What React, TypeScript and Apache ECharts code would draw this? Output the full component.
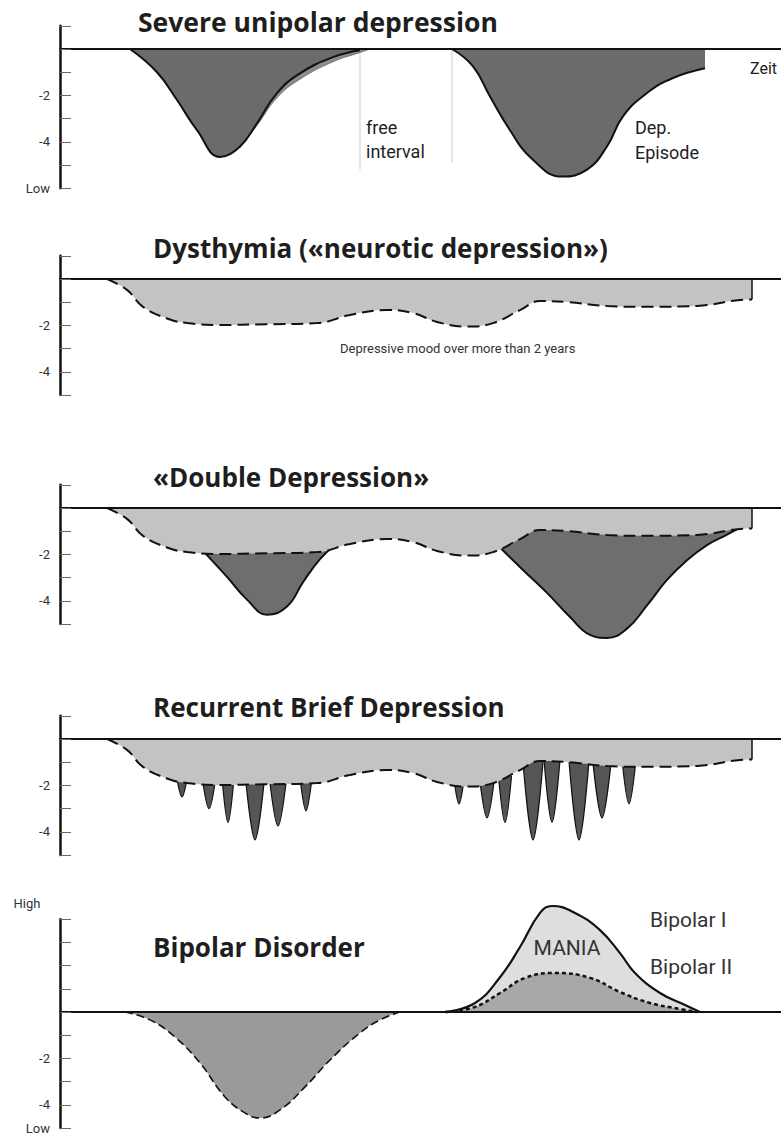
import { useEffect, useRef } from "react";
import * as echarts from "echarts";

// time axis (arbitrary units) and mood axis (units, 0 = euthymic)
const T_MAX = 72.1;

// Panel 1 – Severe unipolar depression
const sevEp1T = [7, 9.7, 11.7, 13.7, 16, 18, 19.7, 21.7, 24, 27.3, 30];
const sevEp1V = [0, -1, -2.2, -3.5, -4.65, -4.2, -3.2, -1.9, -1.05, -0.35, -0.05];
const sevEp1TailT = [18, 19.7, 21.7, 24, 27.3, 30, 31];
const sevEp1TailV = [-4.25, -3.3, -2.1, -1.3, -0.55, -0.15, 0];
const sevEp2T = [39.2, 41.3, 43, 45, 47, 50.2, 52.7, 54.7, 56.3, 58.7, 61.3, 64.5];
const sevEp2V = [0, -0.75, -2.05, -3.5, -4.65, -5.5, -5.2, -4.2, -2.9, -1.9, -1.25, -0.83];
const freeIntervalT = [30, 39.2];
const freeIntervalDepth = [-5.2, -4.9];

// Panels 2-4 – chronic depressive mood (dysthymia)
const moodT = [4.7, 6.7, 8.3, 10.7, 12.7, 15.7, 20.7, 25.7, 29, 32.7, 35.3, 37.7, 40.7, 43.3, 46, 48, 50.7, 54.7, 58.7, 63.7, 68, 69.2];
const moodV = [0, -0.47, -1.2, -1.7, -1.9, -1.98, -1.95, -1.9, -1.55, -1.34, -1.47, -1.85, -2.05, -1.9, -1.34, -0.95, -0.99, -1.16, -1.2, -1.16, -0.9, -0.88];
const moodEndT = 69.2;
const moodEndV = -0.88;

// Panel 3 – Double depression episodes
const ddEpAT = [14.3, 16.7, 18.7, 20.7, 22.7, 24.3, 26, 27.6];
const ddEpAV = [-1.85, -2.97, -3.95, -4.6, -4.25, -3.2, -2.2, -1.55];
const ddEpBT = [44.0, 46.3, 48.7, 51, 53, 54.7, 56.7, 58.7, 60.7, 62.7, 64.7, 66.7, 68];
const ddEpBV = [-1.7, -2.67, -3.66, -4.7, -5.47, -5.6, -5.2, -4.2, -3.1, -2.25, -1.6, -1.15, -0.85];

// Panel 4 – Recurrent brief depressive episodes
const spikeLeft = [11.75, 14.3, 16.25, 18.6, 21.0, 24.05, 39.45, 42.0, 43.85, 46.3, 48.4, 50.9, 53.3, 56.25];
const spikeCenter = [12.2, 14.9, 16.8, 19.5, 21.8, 24.6, 39.9, 42.7, 44.5, 47.3, 49.2, 51.9, 54.2, 56.9];
const spikeRight = [12.65, 15.5, 17.35, 20.4, 22.6, 25.15, 40.35, 43.4, 45.15, 48.3, 50.0, 52.9, 55.1, 57.55];
const spikeTop = [-1.85, -1.9, -1.9, -1.9, -1.9, -1.85, -1.9, -1.85, -1.6, -1.0, -0.9, -0.95, -1.05, -1.1];
const spikeBottom = [-2.5, -3.0, -3.6, -4.35, -3.75, -3.1, -2.8, -3.4, -3.6, -4.35, -3.6, -4.35, -3.4, -2.8];

// Panel 5 – Bipolar disorder
const bpDepT = [6.5, 9, 11.5, 14, 16.5, 18.5, 20, 22, 24.5, 27, 30, 32, 34];
const bpDepV = [0, -0.34, -1.08, -2.2, -3.66, -4.35, -4.57, -4.22, -3.23, -2.07, -0.9, -0.34, 0];
const maniaIT = [38.5, 41.5, 44, 46, 48, 49.2, 51.5, 54, 56, 57.5, 60, 62.5, 64];
const maniaIV = [0, 0.39, 1.5, 2.8, 4.27, 4.57, 4.27, 3.53, 2.54, 1.68, 0.82, 0.3, 0];
const maniaIIT = [38.5, 41.5, 44, 46.5, 49.5, 53, 56, 59, 62, 63.7];
const maniaIIV = [0, 0.22, 0.82, 1.47, 1.68, 1.47, 0.86, 0.39, 0.13, 0];

// tick labels per panel
const tickLabels1: [number, string][] = [[-2, "-2"], [-4, "-4"], [-6, "Low"]];
const tickLabels234: [number, string][] = [[-2, "-2"], [-4, "-4"]];
const tickLabels5: [number, string][] = [[-2, "-2"], [-4, "-4"], [-5, "Low"]];

const titles = [
  "Severe unipolar depression",
  "Dysthymia («neurotic depression»)",
  "«Double Depression»",
  "Recurrent Brief Depression",
  "Bipolar Disorder",
];

const pts = (ts: number[], vs: number[]) => ts.map((t, i) => [t, vs[i]]);

export default function App() {
  const ref = useRef<HTMLDivElement>(null);
  useEffect(() => {
    if (!ref.current) return;
    const chart = echarts.init(ref.current, undefined, { renderer: "svg" });

    const unit = 23.2;
    const panels = [
      { zero: 49, min: -6, max: 1, labels: tickLabels1 },
      { zero: 279, min: -5, max: 1, labels: tickLabels234 },
      { zero: 508, min: -5, max: 1, labels: tickLabels234 },
      { zero: 739, min: -5, max: 1, labels: tickLabels234 },
      { zero: 1012, min: -5, max: 4, labels: tickLabels5 },
    ];

    const grid = panels.map((p) => ({
      left: 60,
      right: 0,
      top: p.zero - p.max * unit,
      height: (p.max - p.min) * unit,
    }));
    const xAxis = panels.map((_, i) => ({
      type: "value",
      gridIndex: i,
      min: 0,
      max: T_MAX,
      z: 10,
      axisLine: { show: true, onZero: true, lineStyle: { color: "#111", width: 2 } },
      axisTick: { show: false },
      axisLabel: { show: false },
      splitLine: { show: false },
    }));
    const yAxis = panels.map((p, i) => ({
      type: "value",
      gridIndex: i,
      min: p.min,
      max: p.max,
      interval: 1,
      z: 10,
      axisLine: { show: true, lineStyle: { color: "#111", width: 2.5 } },
      axisTick: { show: true, inside: true, length: 11, lineStyle: { color: "#666", width: 1 } },
      splitLine: { show: false },
      axisLabel: {
        margin: 10,
        color: "#333",
        fontSize: 13,
        fontFamily: "Roboto",
        formatter: (v: number) => {
          const f = p.labels.find((l) => Math.abs(l[0] - v) < 1e-6);
          return f ? f[1] : "";
        },
      },
    }));

    const area = (
      g: number,
      data: number[][],
      fill: string,
      line: any,
      z = 2,
      smooth: number | boolean = 0.45
    ) => ({
      type: "line",
      xAxisIndex: g,
      yAxisIndex: g,
      data,
      symbol: "none",
      smooth,
      clip: false,
      silent: true,
      z,
      lineStyle: line,
      areaStyle: { color: fill, opacity: 1 },
    });
    const seg = (g: number, data: number[][], color: string, width: number, z = 4) => ({
      type: "line",
      xAxisIndex: g,
      yAxisIndex: g,
      data,
      symbol: "none",
      clip: false,
      silent: true,
      z,
      lineStyle: { color, width },
    });

    const solid = { color: "#111", width: 2 };
    const dashed = { color: "#111", width: 2, type: [12, 6] };

    const series: any[] = [];
    // Panel 1
    series.push(area(0, pts(sevEp1TailT, sevEp1TailV), "#8c8c8c", { color: "#777", width: 1 }, 2));
    series.push(area(0, pts(sevEp1T, sevEp1V), "#6b6b6b", solid, 3));
    series.push(area(0, pts(sevEp2T, sevEp2V), "#6b6b6b", solid, 3));
    freeIntervalT.forEach((t, i) => {
      series.push(seg(0, [[t, 0], [t, freeIntervalDepth[i]]], "#cfcfcf", 1, 1));
    });
    // Panel 2
    series.push(area(1, pts(moodT, moodV), "#c3c3c3", dashed, 3));
    series.push(seg(1, [[moodEndT, 0], [moodEndT, moodEndV]], "#111", 1.5));
    // Panel 3
    series.push(area(2, pts(ddEpAT, ddEpAV), "#6e6e6e", solid, 2));
    series.push(area(2, pts(ddEpBT, ddEpBV), "#6e6e6e", solid, 2));
    series.push(area(2, pts(moodT, moodV), "#c3c3c3", dashed, 3));
    series.push(seg(2, [[moodEndT, 0], [moodEndT, moodEndV]], "#111", 1.5));
    // Panel 4
    spikeCenter.forEach((c, i) => {
      series.push(
        area(
          3,
          [
            [spikeLeft[i], spikeTop[i]],
            [c, spikeBottom[i]],
            [spikeRight[i], spikeTop[i]],
          ],
          "#555555",
          { color: "#111", width: 1.2 },
          2,
          0.35
        )
      );
    });
    series.push(area(3, pts(moodT, moodV), "#c3c3c3", dashed, 3));
    series.push(seg(3, [[moodEndT, 0], [moodEndT, moodEndV]], "#111", 1.5));
    // Panel 5
    series.push(area(4, pts(bpDepT, bpDepV), "#9a9a9a", { color: "#111", width: 1.6, type: [8, 4] }, 3));
    series.push(area(4, pts(maniaIT, maniaIV), "#dedede", { color: "#111", width: 2.2 }, 3));
    series.push(area(4, pts(maniaIIT, maniaIIV), "#a8a8a8", { color: "#111", width: 2.5, type: [4, 3] }, 4));

    const titleFont = "bold 26px 'Open Sans'";
    const txt = (text: string, x: number, y: number, font: string, align = "left", fill = "#1e1e1e") => ({
      type: "text",
      x,
      y,
      z: 20,
      silent: true,
      style: { text, font, fill, textAlign: align, textVerticalAlign: "middle" },
    });
    const graphic = [
      txt(titles[0], 138, 22, "bold 26.5px 'Open Sans'"),
      txt(titles[1], 153, 248, titleFont),
      txt(titles[2], 153, 477, titleFont),
      txt(titles[3], 153, 707, titleFont),
      txt(titles[4], 153, 947, titleFont),
      txt("free", 366, 127, "18px Roboto"),
      txt("interval", 366, 151, "18px Roboto"),
      txt("Dep.", 635, 127, "18px Roboto"),
      txt("Episode", 635, 152, "18px Roboto"),
      txt("Zeit", 750, 68, "16px Roboto"),
      txt("Depressive mood over more than 2 years", 340, 348, "13px Roboto", "left", "#333"),
      txt("MANIA", 567, 948, "21px Roboto", "center", "#333"),
      txt("Bipolar I", 650, 920, "21px Roboto", "left", "#333"),
      txt("Bipolar II", 650, 967, "21px Roboto", "left", "#333"),
      txt("High", 27, 903, "13px Roboto", "center", "#333"),
    ];

    chart.setOption({
      animation: false,
      backgroundColor: "#ffffff",
      grid,
      xAxis,
      yAxis,
      series,
      graphic,
    });
    return () => chart.dispose();
  }, []);

  return (
    <div
      ref={ref}
      style={{ position: "absolute", left: 0, top: 0, width: 781, height: 1140, background: "#fff" }}
    />
  );
}
